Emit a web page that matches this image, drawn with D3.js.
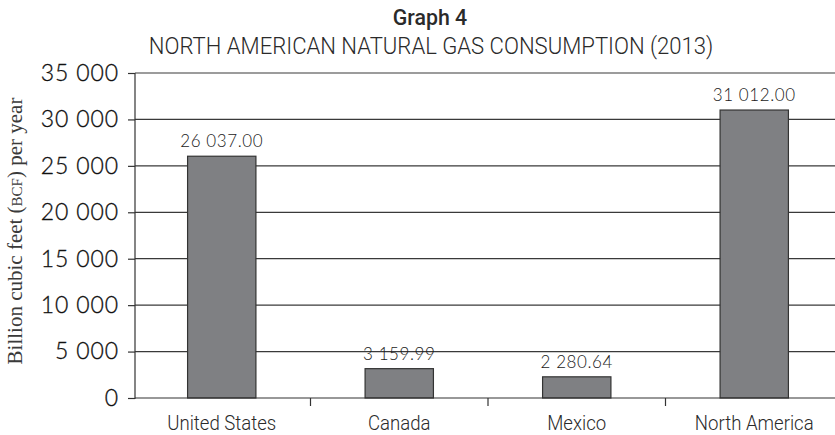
<!DOCTYPE html>
<html>
<head>
<meta charset="utf-8">
<script src="https://cdn.jsdelivr.net/npm/d3@7"></script>
<style>
  body { margin: 0; background: #fff; }
  svg { display: block; }
</style>
</head>
<body>
<svg id="chart" width="835" height="435"></svg>
<script>
// Natural gas consumption, billion cubic feet per year (2013)
const categories = ["United States", "Canada", "Mexico", "North America"];
const consumption = [26037.00, 3159.99, 2280.64, 31012.00];
const yTicks = [0, 5000, 10000, 15000, 20000, 25000, 30000, 35000];

const svg = d3.select("#chart");
const W = 835, H = 435;
const plotLeft = 135, plotTop = 73, plotBottom = 398;

const sansWide = "Lato, 'Open Sans', sans-serif";
const sansNarrow = "Roboto, 'Liberation Sans', sans-serif";
const ink = "#2a2a2a";

// Horizontally condense a text element to a fraction of its natural width
function condense(sel, k) {
  sel.each(function () {
    const w = this.getComputedTextLength();
    d3.select(this).attr("textLength", w * k).attr("lengthAdjust", "spacingAndGlyphs");
  });
}

const x = d3.scaleBand().domain(categories).range([133, 843])
  .paddingInner(0.615).paddingOuter(0.3075);
const xb = d3.scaleBand().domain(categories).range([133, 843]);
const y = d3.scaleLinear().domain([0, 35000]).range([plotBottom, plotTop]);

const spaced = f => v => d3.format(f)(v).replace(/,/g, " ");

// Gridlines across the plot
svg.append("g").selectAll("line").data(yTicks.filter(d => d > 0)).join("line")
  .attr("x1", plotLeft).attr("x2", W)
  .attr("y1", d => y(d)).attr("y2", d => y(d))
  .attr("stroke", "#3a3a3a").attr("stroke-width", 1.2);

// Y axis
const yAxis = svg.append("g").attr("transform", `translate(${plotLeft},0)`)
  .call(d3.axisLeft(y).tickValues(yTicks).tickSize(7).tickPadding(9)
    .tickFormat(spaced(",")));
yAxis.select(".domain").attr("stroke", "#333").attr("stroke-width", 1.2)
  .attr("d", `M0,${y(35000)}V${plotBottom + 1}`);
yAxis.selectAll(".tick line").attr("stroke", "#333").attr("stroke-width", 1.2);
yAxis.selectAll(".tick text").attr("font-family", sansWide).attr("font-weight", 300)
  .attr("font-size", 23).attr("letter-spacing", 0.9).attr("fill", "#111")
  .attr("stroke", "#111").attr("stroke-width", 0.3);

// Bars
svg.append("g").selectAll("rect").data(categories).join("rect")
  .attr("x", d => x(d))
  .attr("width", x.bandwidth())
  .attr("y", (d, i) => y(consumption[i]))
  .attr("height", (d, i) => y(0) - y(consumption[i]))
  .attr("fill", "#7f8083").attr("stroke", "#333").attr("stroke-width", 1.2);

// Value labels
svg.append("g").selectAll("text").data(categories).join("text")
  .attr("x", d => x(d) + x.bandwidth() / 2)
  .attr("y", (d, i) => y(consumption[i]) - 9)
  .attr("text-anchor", "middle")
  .attr("font-family", sansWide).attr("font-weight", 300)
  .attr("font-size", 17).attr("letter-spacing", 0.6)
  .attr("fill", "#1a1a1a")
  .text((d, i) => spaced(",.2f")(consumption[i]));

// X axis with category separators
const xg = svg.append("g");
xg.append("line").attr("x1", plotLeft).attr("x2", W)
  .attr("y1", plotBottom).attr("y2", plotBottom)
  .attr("stroke", "#333").attr("stroke-width", 1.2);
xg.selectAll("line.sep").data(categories.slice(1)).join("line")
  .attr("class", "sep")
  .attr("x1", d => xb(d)).attr("x2", d => xb(d))
  .attr("y1", plotBottom).attr("y2", plotBottom + 8)
  .attr("stroke", "#333").attr("stroke-width", 1.2);
xg.selectAll("text").data(categories).join("text")
  .attr("x", d => x(d) + x.bandwidth() / 2)
  .attr("y", 430)
  .attr("text-anchor", "middle")
  .attr("font-family", sansNarrow).attr("font-weight", 300)
  .attr("font-size", 20).attr("fill", ink)
  .text(d => d)
  .call(condense, 0.93);

// Y axis title
const yt = svg.append("text")
  .attr("transform", `translate(22,231) rotate(-90)`)
  .attr("text-anchor", "middle")
  .attr("font-family", "'Liberation Serif', serif").attr("font-size", 21).attr("fill", "#3a3a3a");
yt.append("tspan").text("Billion cubic feet (");
yt.append("tspan").attr("font-size", 15).text("BCF");
yt.append("tspan").text(") per year");

// Titles
svg.append("text").attr("x", 430).attr("y", 25).attr("text-anchor", "middle")
  .attr("font-family", sansNarrow).attr("font-weight", 500)
  .attr("font-size", 22).attr("fill", ink).text("Graph 4")
  .call(condense, 0.97);
svg.append("text").attr("x", 431).attr("y", 54).attr("text-anchor", "middle")
  .attr("font-family", sansNarrow).attr("font-weight", 300)
  .attr("font-size", 24).attr("fill", ink)
  .text("NORTH AMERICAN NATURAL GAS CONSUMPTION (2013)")
  .call(condense, 0.92);
</script>
</body>
</html>
